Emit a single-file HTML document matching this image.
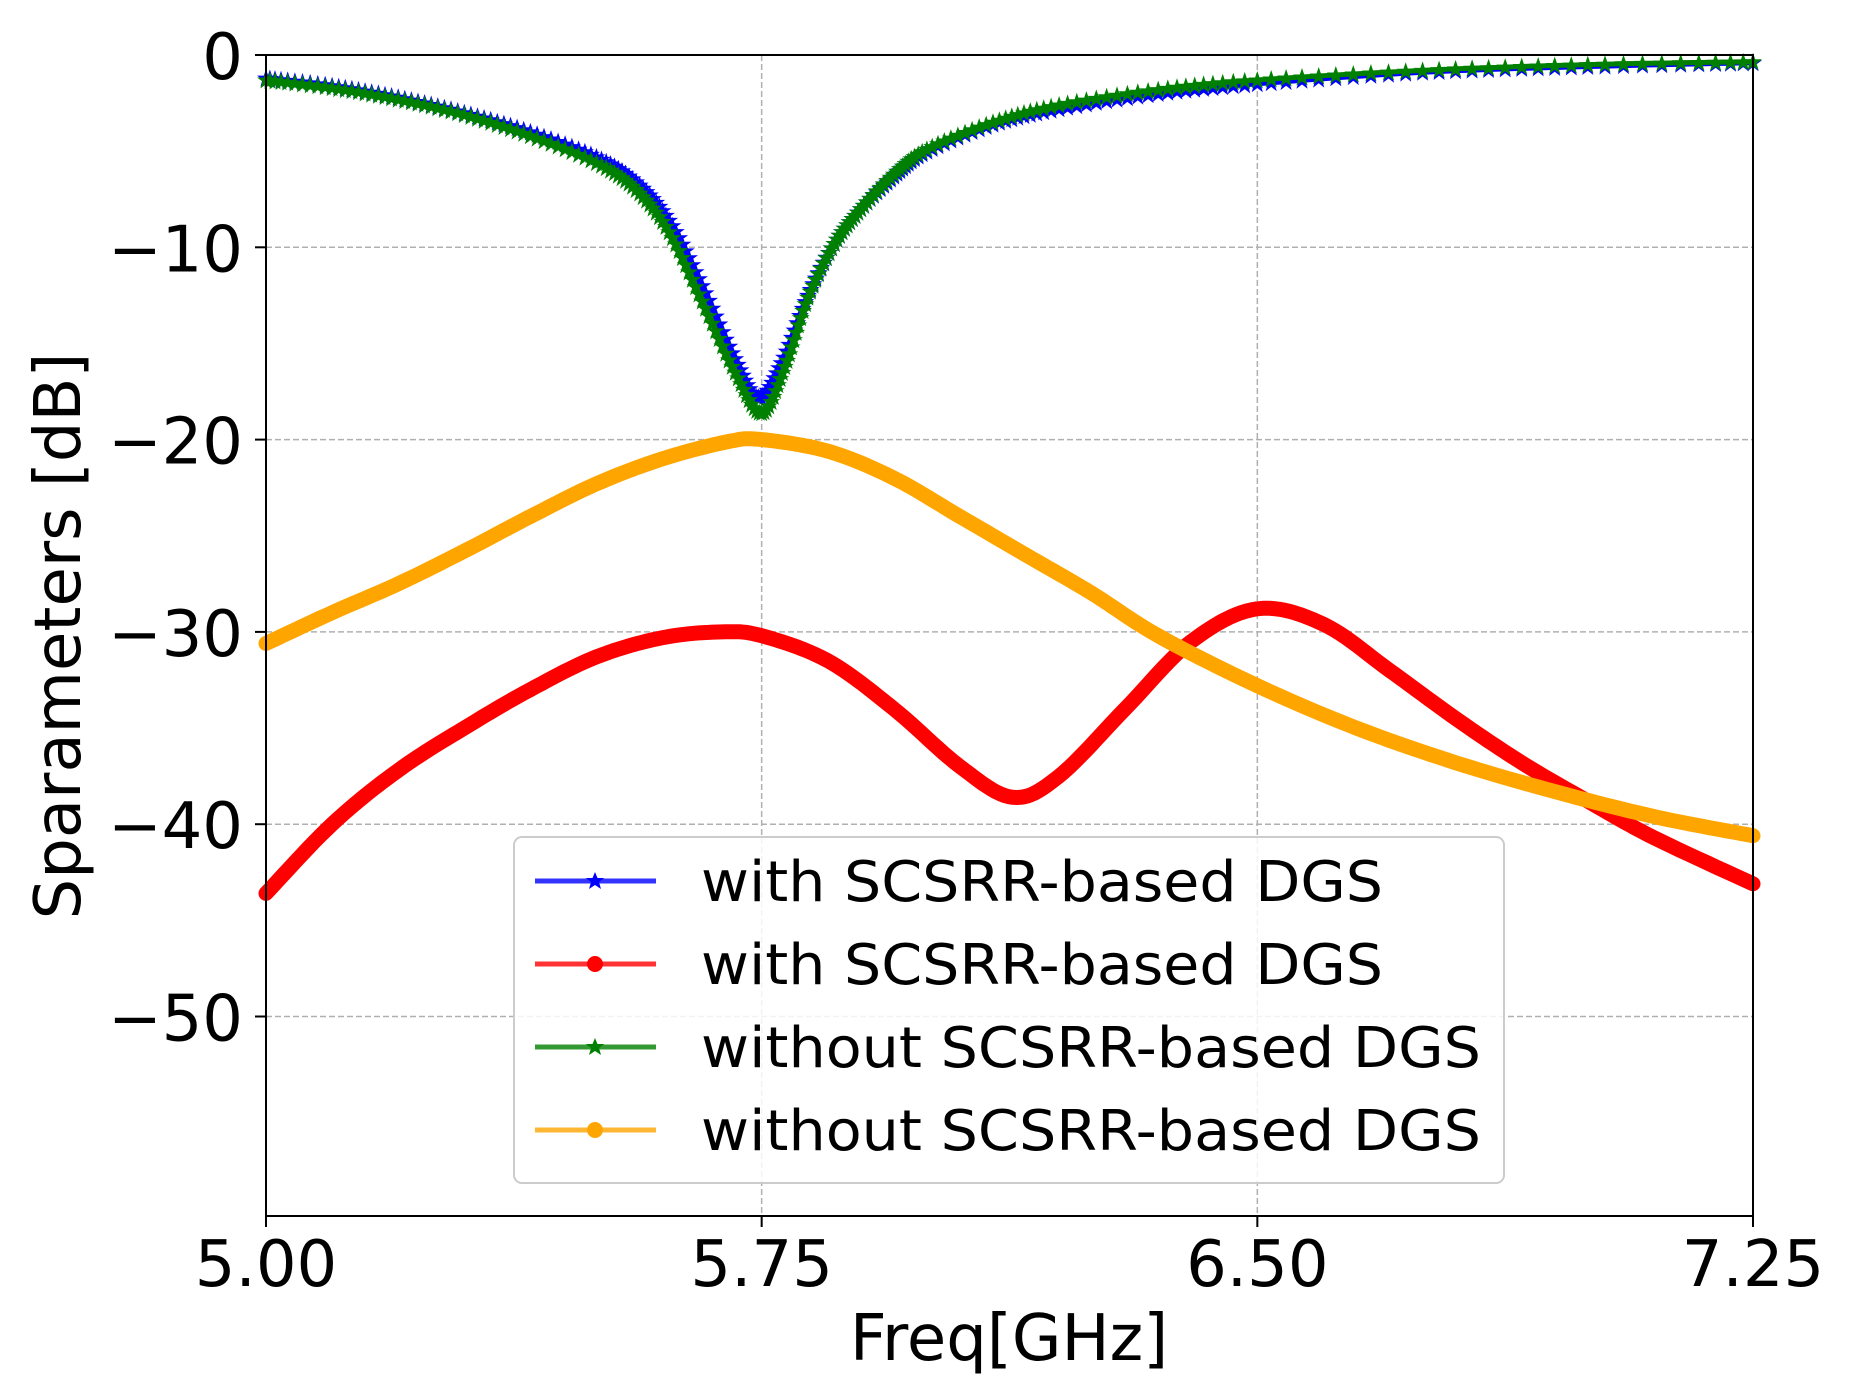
<!DOCTYPE html>
<html><head><meta charset="utf-8"><style>
html,body{margin:0;padding:0;background:#fff;}
svg{display:block;}
text{font-family:"DejaVu Sans","Liberation Sans",sans-serif;fill:#000;}
</style></head><body>
<svg id="s" width="1849" height="1392" xmlns="http://www.w3.org/2000/svg">
<defs>
<marker id="starB" markerWidth="20" markerHeight="20" refX="10" refY="10" markerUnits="userSpaceOnUse">
<polygon points="10,1 12.2,7.5 19,7.5 13.5,11.5 15.6,18.5 10,14.2 4.4,18.5 6.5,11.5 1,7.5 7.8,7.5" fill="#0000ff"/></marker>
<marker id="starG" markerWidth="20" markerHeight="20" refX="10" refY="10" markerUnits="userSpaceOnUse">
<polygon points="10,1 12.2,7.5 19,7.5 13.5,11.5 15.6,18.5 10,14.2 4.4,18.5 6.5,11.5 1,7.5 7.8,7.5" fill="#008000"/></marker>
</defs>
<g id="grid" stroke="#b0b0b0" stroke-width="1.5" stroke-dasharray="6,3"></g>
<g id="curves"></g>
<rect x="266" y="55" width="1487" height="1161" fill="none" stroke="#000" stroke-width="2"/>
<g id="ticks" stroke="#000" stroke-width="2"></g>
<g id="labels" font-size="64"></g>
<text x="1009" y="1360" font-size="64" text-anchor="middle">Freq[GHz]</text>
<text transform="translate(80,636) rotate(-90)" font-size="64" text-anchor="middle">Sparameters [dB]</text>
<rect x="514" y="837" width="990" height="346" rx="8" fill="#fff" fill-opacity="0.85" stroke="#cccccc" stroke-width="2"/>
<g id="leg"></g>
</svg>
<script>
const NS="http://www.w3.org/2000/svg";
const X=f=>266+(f-5)/2.25*1487, Y=d=>55-d*19.23;
function el(tag,attrs,parent,txt){const e=document.createElementNS(NS,tag);for(const k in attrs)e.setAttribute(k,attrs[k]);if(txt!==undefined)e.textContent=txt;parent.appendChild(e);return e;}
const grid=document.getElementById('grid'),ticks=document.getElementById('ticks'),labels=document.getElementById('labels');
[5.75,6.5].forEach(f=>el('line',{x1:X(f),x2:X(f),y1:55,y2:1216},grid));
[-10,-20,-30,-40,-50].forEach(d=>el('line',{x1:266,x2:1753,y1:Y(d),y2:Y(d)},grid));
[[5,'5.00'],[5.75,'5.75'],[6.5,'6.50'],[7.25,'7.25']].forEach(([f,t])=>{el('line',{x1:X(f),x2:X(f),y1:1216,y2:1227},ticks);el('text',{x:X(f),y:1286,'text-anchor':'middle'},labels,t);});
[0,-10,-20,-30,-40,-50].forEach(d=>{el('line',{x1:255,x2:266,y1:Y(d),y2:Y(d)},ticks);el('text',{x:243,y:Y(d)+24,'text-anchor':'end'},labels,d==0?'0':'\u2212'+(-d));});
function cr(pts,n){const out=[];for(let i=0;i<pts.length-1;i++){const p0=pts[Math.max(0,i-1)],p1=pts[i],p2=pts[i+1],p3=pts[Math.min(pts.length-1,i+2)];for(let k=0;k<n;k++){const t=k/n,t2=t*t,t3=t2*t;const c=(a,b,c_,d)=>0.5*((2*b)+(-a+c_)*t+(2*a-5*b+4*c_-d)*t2+(-a+3*b-3*c_+d)*t3);out.push([c(p0[0],p1[0],p2[0],p3[0]),c(p0[1],p1[1],p2[1],p3[1])]);}}out.push(pts[pts.length-1]);return out;}
const blue=[[5.0,-1.2],[5.1,-1.6],[5.2,-2.2],[5.3,-3.0],[5.4,-4.0],[5.5,-5.3],[5.56,-6.6],[5.61,-8.6],[5.66,-12],[5.71,-15.8],[5.745,-17.8],[5.78,-16],[5.82,-12.5],[5.86,-9.8],[5.9,-8],[5.95,-6.3],[6.0,-5],[6.1,-3.6],[6.2,-2.8],[6.35,-2.0],[6.5,-1.5],[6.75,-0.9],[7.0,-0.6],[7.25,-0.4]];
const green=[[5.0,-1.3],[5.1,-1.7],[5.2,-2.3],[5.3,-3.1],[5.4,-4.2],[5.5,-5.6],[5.56,-7.0],[5.61,-9.2],[5.66,-12.8],[5.71,-16.5],[5.75,-18.6],[5.785,-16.2],[5.82,-12.6],[5.86,-9.8],[5.9,-8],[5.95,-6.2],[6.0,-4.9],[6.1,-3.5],[6.2,-2.6],[6.35,-1.8],[6.5,-1.3],[6.75,-0.8],[7.0,-0.5],[7.25,-0.35]];
const red=[[5.0,-43.6],[5.1,-40],[5.2,-37.2],[5.3,-35],[5.4,-33],[5.5,-31.3],[5.6,-30.3],[5.69,-30],[5.75,-30.2],[5.85,-31.5],[5.95,-34],[6.05,-37],[6.13,-38.6],[6.2,-37.5],[6.3,-34],[6.4,-30.5],[6.5,-28.8],[6.6,-29.6],[6.7,-32],[6.8,-34.5],[6.9,-36.8],[7.0,-38.8],[7.1,-40.7],[7.25,-43.1]];
const orange=[[5.0,-30.6],[5.1,-29],[5.2,-27.5],[5.3,-25.8],[5.4,-24],[5.5,-22.3],[5.6,-21],[5.7,-20.1],[5.75,-20],[5.85,-20.6],[5.95,-22],[6.05,-24],[6.15,-26],[6.25,-28],[6.35,-30.2],[6.5,-32.8],[6.65,-35],[6.8,-36.8],[6.95,-38.3],[7.1,-39.6],[7.25,-40.6]];
const cv=document.getElementById('curves');
function draw(pts,color,w,marker,n){const s=cr(pts,n).map(p=>X(p[0]).toFixed(1)+','+Y(p[1]).toFixed(1)).join(' ');const a={points:s,fill:'none',stroke:color,'stroke-width':w,'stroke-linejoin':'round','stroke-linecap':'round'};if(marker){a['marker-mid']=marker;a['marker-start']=marker;a['marker-end']=marker;}el('polyline',a,cv);}
draw(blue,'#0000ff',5,'url(#starB)',10);
draw(red,'#ff0000',15,null,12);
draw(green,'#008000',5,'url(#starG)',10);
draw(orange,'#ffa500',15,null,12);
const leg=document.getElementById('leg');
const items=[['#0000ff','star','with SCSRR-based DGS'],['#ff0000','dot','with SCSRR-based DGS'],['#008000','star','without SCSRR-based DGS'],['#ffa500','dot','without SCSRR-based DGS']];
items.forEach((it,i)=>{const y=881+i*83;el('line',{x1:535,x2:656,y1:y,y2:y,stroke:it[0],'stroke-width':5,'stroke-opacity':0.8},leg);
if(it[1]=='dot')el('circle',{cx:595,cy:y,r:8,fill:it[0]},leg);else el('polygon',{points:'595,872 597.5,878 604,878 599,882 601,889 595,885 589,889 591,882 586,878 592.5,878',transform:'translate(0,'+(y-881)+')',fill:it[0]},leg);
el('text',{x:701,y:y+20,'font-size':56,textLength:i<2?682:780,lengthAdjust:'spacingAndGlyphs'},leg,it[2]);});
</script>
</body></html>
